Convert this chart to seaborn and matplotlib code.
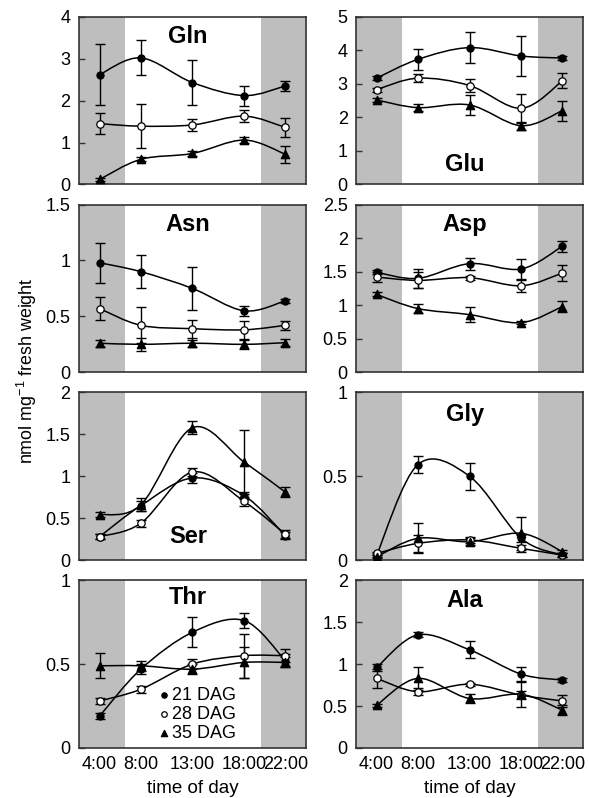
import numpy as np
import seaborn as sns
import matplotlib.pyplot as plt
from matplotlib.path import Path
from matplotlib.patches import PathPatch

# time of day (hours)
hours = [4, 8, 13, 18, 22]
hour_labels = ['4:00', '8:00', '13:00', '18:00', '22:00']
dag_labels = ['21 DAG', '28 DAG', '35 DAG']

# Gln
gln_21 = [2.62, 3.02, 2.43, 2.12, 2.35]
gln_21_sd = [0.72, 0.42, 0.53, 0.24, 0.12]
gln_28 = [1.45, 1.39, 1.42, 1.63, 1.36]
gln_28_sd = [0.25, 0.52, 0.15, 0.14, 0.23]
gln_35 = [0.12, 0.60, 0.74, 1.06, 0.72]
gln_35_sd = [0.03, 0.05, 0.05, 0.08, 0.20]

# Glu
glu_21 = [3.17, 3.73, 4.08, 3.83, 3.77]
glu_21_sd = [0.05, 0.32, 0.47, 0.59, 0.07]
glu_28 = [2.83, 3.17, 2.95, 2.27, 3.09]
glu_28_sd = [0.06, 0.12, 0.18, 0.43, 0.22]
glu_35 = [2.52, 2.29, 2.37, 1.75, 2.20]
glu_35_sd = [0.05, 0.10, 0.30, 0.12, 0.30]

# Asn
asn_21 = [0.98, 0.90, 0.75, 0.55, 0.64]
asn_21_sd = [0.18, 0.145, 0.19, 0.045, 0.02]
asn_28 = [0.57, 0.42, 0.39, 0.38, 0.42]
asn_28_sd = [0.10, 0.16, 0.08, 0.08, 0.04]
asn_35 = [0.26, 0.25, 0.26, 0.25, 0.265]
asn_35_sd = [0.03, 0.06, 0.03, 0.04, 0.03]

# Asp
asp_21 = [1.49, 1.40, 1.62, 1.54, 1.88]
asp_21_sd = [0.03, 0.14, 0.09, 0.15, 0.08]
asp_28 = [1.42, 1.37, 1.41, 1.29, 1.48]
asp_28_sd = [0.07, 0.12, 0.03, 0.09, 0.12]
asp_35 = [1.16, 0.95, 0.86, 0.74, 0.98]
asp_35_sd = [0.03, 0.07, 0.11, 0.02, 0.08]

# Ser
ser_21 = [0.28, 0.65, 0.98, 0.77, 0.29]
ser_21_sd = [0.03, 0.06, 0.06, 0.04, 0.04]
ser_28 = [0.28, 0.44, 1.05, 0.70, 0.31]
ser_28_sd = [0.03, 0.04, 0.05, 0.05, 0.05]
ser_35 = [0.54, 0.66, 1.58, 1.17, 0.81]
ser_35_sd = [0.03, 0.08, 0.08, 0.38, 0.06]

# Gly
gly_21 = [0.03, 0.57, 0.50, 0.13, 0.03]
gly_21_sd = [0.01, 0.05, 0.08, 0.02, 0.01]
gly_28 = [0.04, 0.10, 0.12, 0.07, 0.03]
gly_28_sd = [0.01, 0.05, 0.02, 0.02, 0.01]
gly_35 = [0.02, 0.13, 0.11, 0.16, 0.05]
gly_35_sd = [0.01, 0.09, 0.02, 0.10, 0.01]

# Thr
thr_21 = [0.19, 0.47, 0.69, 0.76, 0.52]
thr_21_sd = [0.02, 0.03, 0.09, 0.045, 0.04]
thr_28 = [0.28, 0.35, 0.50, 0.55, 0.55]
thr_28_sd = [0.02, 0.02, 0.03, 0.13, 0.04]
thr_35 = [0.49, 0.49, 0.47, 0.51, 0.51]
thr_35_sd = [0.075, 0.03, 0.03, 0.09, 0.03]

# Ala
ala_21 = [0.96, 1.35, 1.17, 0.88, 0.81]
ala_21_sd = [0.04, 0.03, 0.10, 0.08, 0.02]
ala_28 = [0.83, 0.67, 0.76, 0.63, 0.56]
ala_28_sd = [0.11, 0.04, 0.02, 0.05, 0.07]
ala_35 = [0.51, 0.83, 0.59, 0.64, 0.45]
ala_35_sd = [0.02, 0.14, 0.05, 0.15, 0.06]

names = ['Gln', 'Glu', 'Asn', 'Asp', 'Ser', 'Gly', 'Thr', 'Ala']
means = [[gln_21, gln_28, gln_35], [glu_21, glu_28, glu_35],
         [asn_21, asn_28, asn_35], [asp_21, asp_28, asp_35],
         [ser_21, ser_28, ser_35], [gly_21, gly_28, gly_35],
         [thr_21, thr_28, thr_35], [ala_21, ala_28, ala_35]]
sds = [[gln_21_sd, gln_28_sd, gln_35_sd], [glu_21_sd, glu_28_sd, glu_35_sd],
       [asn_21_sd, asn_28_sd, asn_35_sd], [asp_21_sd, asp_28_sd, asp_35_sd],
       [ser_21_sd, ser_28_sd, ser_35_sd], [gly_21_sd, gly_28_sd, gly_35_sd],
       [thr_21_sd, thr_28_sd, thr_35_sd], [ala_21_sd, ala_28_sd, ala_35_sd]]
y_max = [4, 5, 1.5, 2.5, 2, 1, 1, 2]
y_step = [1, 1, 0.5, 0.5, 0.5, 0.5, 0.5, 0.5]

# style
sns.set_style('ticks')
plt.rcParams['font.family'] = ['Liberation Sans', 'DejaVu Sans']
plt.rcParams['mathtext.fontset'] = 'custom'
plt.rcParams['mathtext.rm'] = 'Liberation Sans'
for key in ['text.color', 'axes.labelcolor', 'xtick.color', 'ytick.color']:
    plt.rcParams[key] = 'black'

markers = ['o', 'o', '^']
faces = ['black', 'white', 'black']
sizes = [26, 28, 36]
shade = '#bebebe'
title_y = [0.88, 0.12, 0.88, 0.88, 0.14, 0.87, 0.9, 0.88]


def smooth_path(x, y):
    # Catmull-Rom style bezier through the data points (like Excel "smoothed line")
    pts = np.column_stack([x, y]).astype(float)
    n = len(pts)
    verts = [pts[0]]
    codes = [Path.MOVETO]
    for i in range(n - 1):
        p0 = pts[max(i - 1, 0)]
        p1 = pts[i]
        p2 = pts[i + 1]
        p3 = pts[min(i + 2, n - 1)]
        verts += [p1 + (p2 - p0) / 6, p2 - (p3 - p1) / 6, p2]
        codes += [Path.CURVE4] * 3
    return Path(verts, codes)


fig, axes = plt.subplots(4, 2, figsize=(5.89, 7.98), dpi=100)
plt.subplots_adjust(left=0.134, right=0.99, top=0.979, bottom=0.0627,
                    wspace=0.22, hspace=0.12)

for k, ax in enumerate(axes.flat):
    ax.axvspan(2, 6.5, color=shade, lw=0, zorder=0)
    ax.axvspan(19.6, 24, color=shade, lw=0, zorder=0)
    for j in range(3):
        y = means[k][j]
        ax.add_patch(PathPatch(smooth_path(hours, y), fc='none', ec='black',
                               lw=1.1, zorder=2))
        ax.errorbar(hours, y, yerr=sds[k][j], fmt='none', ecolor='black',
                    elinewidth=1.0, capsize=3.5, capthick=1.0, zorder=3)
        sns.scatterplot(x=hours, y=y, marker=markers[j], color=faces[j],
                        edgecolor='black', linewidth=0.9, s=sizes[j], ax=ax,
                        zorder=4, label=dag_labels[j] if k == 6 else None)
    ax.set_xlim(2, 24)
    ax.set_ylim(0, y_max[k])
    ax.set_yticks(np.arange(0, y_max[k] + 0.01, y_step[k]))
    ax.set_yticklabels(['%g' % v for v in ax.get_yticks()])
    ax.set_xticks(hours)
    if k >= 6:
        ax.set_xticklabels(hour_labels)
        ax.set_xlabel('time of day', fontsize=13.5, labelpad=5)
    else:
        ax.set_xticklabels([])
    ax.tick_params(axis='y', direction='in', length=4, width=1,
                   labelsize=13, pad=6, color='#333333')
    ax.tick_params(axis='x', length=0, labelsize=13, pad=6)
    for sp in ax.spines.values():
        sp.set_color('#333333')
        sp.set_linewidth(1.2)
    ax.text(0.48, title_y[k], names[k], transform=ax.transAxes,
            ha='center', va='center', fontsize=17, fontweight='bold', zorder=5)
    if k == 6:
        ax.legend(loc='lower left', bbox_to_anchor=(0.30, -0.04), frameon=False,
                  fontsize=13, handlelength=0.5, handletextpad=0.2,
                  labelspacing=0.12, markerscale=0.75, borderpad=0.2)
    elif ax.get_legend() is not None:
        ax.get_legend().remove()

fig.text(0.046, 0.536, 'nmol mg$^{-1}$ fresh weight', rotation=90,
         ha='center', va='center', fontsize=12.9)

fig.savefig('out.png', dpi=100)
